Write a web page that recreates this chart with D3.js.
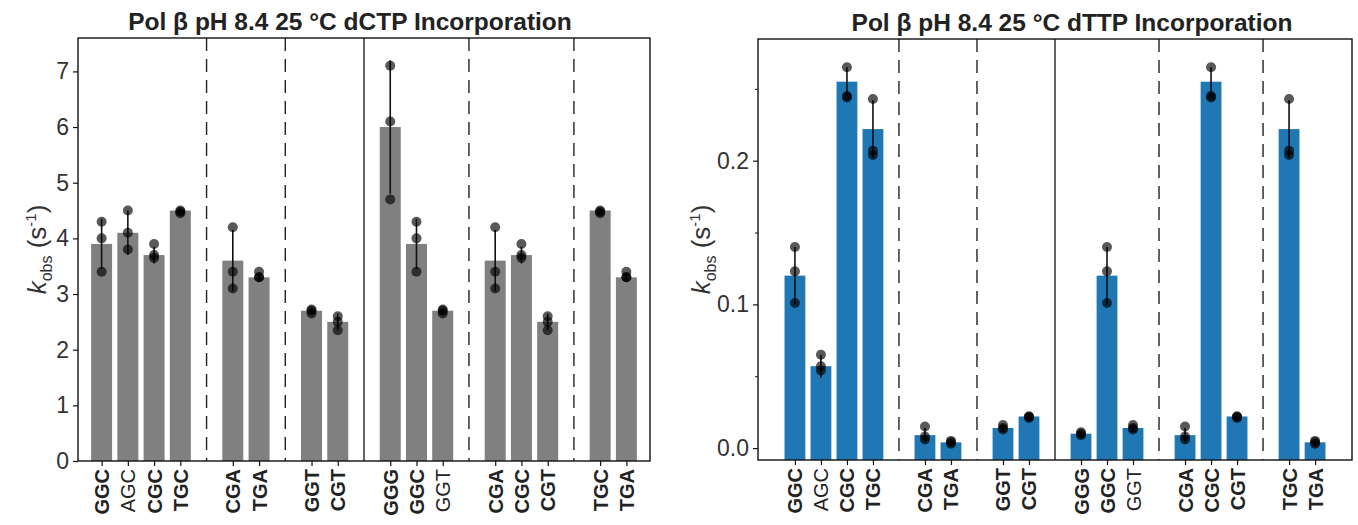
<!DOCTYPE html>
<html>
<head>
<meta charset="utf-8">
<script src="https://cdn.jsdelivr.net/npm/d3@7"></script>
<style>
  body { margin: 0; background: #fff; }
  svg { font-family: "Liberation Sans", Arial, sans-serif; }
</style>
</head>
<body>
<div id="chart-area"></div>
<script>
// Categories, grouped; dividers sit in the empty slot between groups
var groups = [
    ["GGC", "AGC", "CGC", "TGC"],
    ["CGA", "TGA"],
    ["GGT", "CGT"],
    ["GGG", "GGC", "GGT"],
    ["CGA", "CGC", "CGT"],
    ["TGC", "TGA"]
];
var dividerStyle = ["dashed", "dashed", "solid", "dashed", "dashed"];
var labelBold = [1, 0, 1, 1, 1, 1, 1, 1, 1, 1, 0, 1, 1, 1, 1, 1];

// dCTP panel
var ctpMean = [3.9, 4.1, 3.7, 4.5, 3.6, 3.3, 2.7, 2.5, 6.0, 3.9, 2.7, 3.6, 3.7, 2.5, 4.5, 3.3];
var ctpSd = [0.45, 0.4, 0.15, 0.03, 0.55, 0.07, 0.05, 0.15, 1.2, 0.45, 0.05, 0.55, 0.15, 0.15, 0.03, 0.07];
var ctpPoints = [
    [4.3, 4.0, 3.4], [4.5, 4.1, 3.8], [3.9, 3.7, 3.65], [4.5, 4.48, 4.45],
    [4.2, 3.4, 3.1], [3.4, 3.3, 3.3], [2.72, 2.7, 2.65], [2.6, 2.5, 2.35],
    [7.1, 6.1, 4.7], [4.3, 4.0, 3.4], [2.72, 2.7, 2.65], [4.2, 3.4, 3.1],
    [3.9, 3.7, 3.65], [2.6, 2.5, 2.35], [4.5, 4.48, 4.45], [3.4, 3.3, 3.3]
];
var ctpTicks = [0, 1, 2, 3, 4, 5, 6, 7];

// dTTP panel
var ttpMean = [0.12, 0.057, 0.255, 0.222, 0.009, 0.004, 0.014, 0.022, 0.010, 0.12, 0.014, 0.009, 0.255, 0.022, 0.222, 0.004];
var ttpSd = [0.02, 0.008, 0.01, 0.02, 0.005, 0.001, 0.002, 0.001, 0.002, 0.02, 0.002, 0.005, 0.01, 0.001, 0.02, 0.001];
var ttpPoints = [
    [0.14, 0.123, 0.101], [0.065, 0.057, 0.054], [0.265, 0.245, 0.244], [0.243, 0.207, 0.204],
    [0.015, 0.008, 0.006], [0.005, 0.004, 0.003], [0.016, 0.014, 0.013], [0.022, 0.022, 0.021],
    [0.011, 0.010, 0.009], [0.14, 0.123, 0.101], [0.016, 0.014, 0.013], [0.015, 0.008, 0.006],
    [0.265, 0.245, 0.244], [0.022, 0.022, 0.021], [0.243, 0.207, 0.204], [0.005, 0.004, 0.003]
];
var ttpTicks = [0.0, 0.1, 0.2];
var ttpMinor = [0.05, 0.15, 0.25];

// slot index of every bar and of every divider
var labels = [], slots = [], dividerSlots = [];
var s = 0;
groups.forEach(function (grp, gi) {
    grp.forEach(function (name) { labels.push(name); slots.push(s); s++; });
    if (gi < groups.length - 1) { dividerSlots.push(s); s++; }
});

var svg = d3.select("#chart-area").append("svg")
    .attr("width", 1358)
    .attr("height", 525);

function drawPanel(opt) {
    var g = svg.append("g");
    var x = d3.scaleLinear().domain(opt.xDomain).range([opt.left, opt.right]);
    var y = d3.scaleLinear().domain(opt.yDomain).range([opt.bottom, opt.top]);
    var bw = x(0.8) - x(0);
    var base = opt.yDomain[0];

    // Bars
    g.selectAll("rect.bar")
        .data(opt.mean)
        .enter().append("rect")
            .attr("class", "bar")
            .attr("x", function (d, i) { return x(slots[i]) - bw / 2; })
            .attr("width", bw)
            .attr("y", function (d) { return y(d); })
            .attr("height", function (d) { return y(base) - y(d); })
            .attr("fill", opt.color);

    // Divider lines
    g.selectAll("line.div")
        .data(dividerSlots)
        .enter().append("line")
            .attr("x1", function (d) { return x(d); })
            .attr("x2", function (d) { return x(d); })
            .attr("y1", opt.top)
            .attr("y2", opt.bottom)
            .attr("stroke", "#222")
            .attr("stroke-width", 1.4)
            .attr("stroke-dasharray", function (d, i) { return dividerStyle[i] == "dashed" ? "13,8" : null; });

    // Error bars (mean +/- sd)
    g.selectAll("line.err")
        .data(opt.mean)
        .enter().append("line")
            .attr("x1", function (d, i) { return x(slots[i]); })
            .attr("x2", function (d, i) { return x(slots[i]); })
            .attr("y1", function (d, i) { return y(d - opt.sd[i]); })
            .attr("y2", function (d, i) { return y(d + opt.sd[i]); })
            .attr("stroke", "#111")
            .attr("stroke-width", 1.6);

    // Replicate points
    opt.points.forEach(function (pts, i) {
        g.selectAll(null)
            .data(pts)
            .enter().append("circle")
                .attr("cx", x(slots[i]))
                .attr("cy", function (d) { return y(d); })
                .attr("r", 5)
                .attr("fill", "#000")
                .attr("fill-opacity", 0.65);
    });

    // Frame
    g.append("rect")
        .attr("x", opt.left)
        .attr("y", opt.top)
        .attr("width", opt.right - opt.left)
        .attr("height", opt.bottom - opt.top)
        .attr("fill", "none")
        .attr("stroke", "#111")
        .attr("stroke-width", 1.4);

    // Y Axis
    var yAxisCall = d3.axisLeft(y)
        .tickValues(opt.yTicks)
        .tickFormat(opt.yFormat)
        .tickSize(5)
        .tickPadding(4);
    var yAxis = g.append("g")
        .attr("transform", "translate(" + opt.left + ",0)")
        .call(yAxisCall);
    yAxis.select(".domain").remove();
    yAxis.selectAll("text").attr("font-size", "23px").attr("fill", "#333");
    yAxis.selectAll("line").attr("stroke", "#111").attr("stroke-width", 1.2);

    if (opt.yMinor) {
        var minorAxis = g.append("g")
            .attr("transform", "translate(" + opt.left + ",0)")
            .call(d3.axisLeft(y).tickValues(opt.yMinor).tickFormat("").tickSize(3));
        minorAxis.select(".domain").remove();
        minorAxis.selectAll("line").attr("stroke", "#111");
    }

    // X Axis
    var xAxisCall = d3.axisBottom(x)
        .tickValues(slots)
        .tickFormat(function (d, i) { return labels[i]; })
        .tickSize(5)
        .tickPadding(3);
    var xAxis = g.append("g")
        .attr("transform", "translate(0," + opt.bottom + ")")
        .call(xAxisCall);
    xAxis.select(".domain").remove();
    xAxis.selectAll("line").attr("stroke", "#111").attr("stroke-width", 1.2);
    xAxis.selectAll("text")
        .attr("font-size", "20px")
        .attr("fill", "#222")
        .attr("font-weight", function (d, i) { return labelBold[i] ? "bold" : "normal"; })
        .attr("text-anchor", "end")
        .attr("dy", "0.35em")
        .attr("transform", "translate(0,8) rotate(-90)")
        .attr("x", 0)
        .attr("y", 0);

    // Title
    g.append("text")
        .attr("x", opt.titleX)
        .attr("y", opt.titleY)
        .attr("text-anchor", "middle")
        .attr("font-size", "24.5px")
        .attr("font-weight", "bold")
        .attr("fill", "#222")
        .text(opt.title);

    // Y Label: k_obs (s^-1)
    var yl = g.append("text")
        .attr("transform", "translate(" + opt.yLabelX + "," + ((opt.top + opt.bottom) / 2) + ") rotate(-90)")
        .attr("text-anchor", "middle")
        .attr("font-size", "26px")
        .attr("fill", "#333");
    yl.append("tspan").attr("font-style", "italic").text("k");
    yl.append("tspan").attr("font-size", "16px").attr("dy", "6").text("obs");
    yl.append("tspan").attr("dy", "-6").text(" (s");
    yl.append("tspan").attr("font-size", "15px").attr("dy", "-10").text("-1");
    yl.append("tspan").attr("dy", "10").text(")");
}

drawPanel({
    left: 78, right: 650, top: 38, bottom: 461,
    xDomain: [-0.9, 20.9],
    yDomain: [0, 7.6],
    mean: ctpMean, sd: ctpSd, points: ctpPoints,
    yTicks: ctpTicks, yFormat: d3.format("d"),
    color: "#808080",
    title: "Pol \u03b2 pH 8.4 25 \u00b0C dCTP Incorporation",
    titleX: 350, titleY: 30,
    yLabelX: 46
});

drawPanel({
    left: 758, right: 1352, top: 39, bottom: 460,
    xDomain: [-1.42, 21.42],
    yDomain: [-0.0083, 0.2847],
    mean: ttpMean, sd: ttpSd, points: ttpPoints,
    yTicks: ttpTicks, yFormat: d3.format(".1f"), yMinor: ttpMinor,
    color: "#1f77b4",
    title: "Pol \u03b2 pH 8.4 25 \u00b0C dTTP Incorporation",
    titleX: 1072, titleY: 31,
    yLabelX: 710
});
</script>
</body>
</html>
